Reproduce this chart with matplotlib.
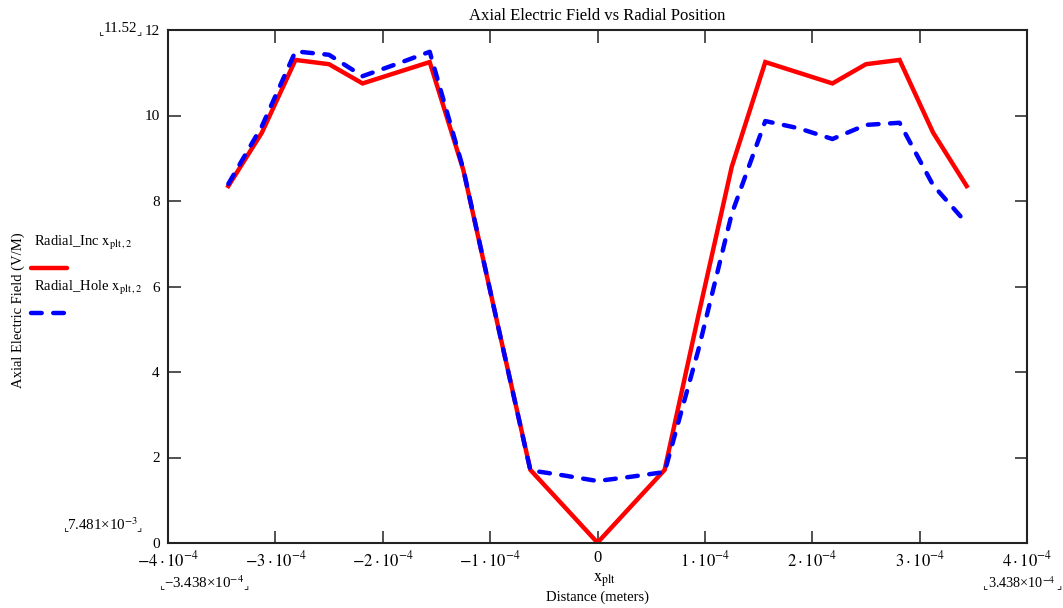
import numpy as np
import matplotlib
matplotlib.use('Agg')
import matplotlib.pyplot as plt
from matplotlib.lines import Line2D

plt.rcParams['font.family'] = ['Liberation Serif', 'DejaVu Sans']
plt.rcParams['mathtext.fontset'] = 'stix'

# radial positions (meters), 23 samples
x_plt = np.linspace(-3.438e-4, 3.438e-4, 23)
radial_inc = [8.35, 9.6, 11.3, 11.2, 10.75, 11.0, 11.25, 8.73, 5.2, 1.71, 0.86, 0.007481,
              0.86, 1.71, 5.3, 8.8, 11.25, 11.0, 10.75, 11.2, 11.3, 9.6, 8.35]
radial_hole = [8.4, 9.75, 11.5, 11.42, 10.92, 11.2, 11.49, 8.75, 5.2, 1.7, 1.58, 1.45,
               1.55, 1.66, 4.5, 7.7, 9.87, 9.7, 9.45, 9.78, 9.83, 8.37, 7.48]

xticks = [-4e-4, -3e-4, -2e-4, -1e-4, 0, 1e-4, 2e-4, 3e-4, 4e-4]
xticklabels = [r'$-4\cdot10^{-4}$', r'$-3\cdot10^{-4}$', r'$-2\cdot10^{-4}$', r'$-1\cdot10^{-4}$', '0',
               r'$1\cdot10^{-4}$', r'$2\cdot10^{-4}$', r'$3\cdot10^{-4}$', r'$4\cdot10^{-4}$']
yticks = [0, 2, 4, 6, 8, 10, 12]

fig = plt.figure(figsize=(10.63, 6.08), dpi=100)
ax = fig.add_axes([168/1063, 1 - 543/608, (1027 - 168)/1063, (543 - 30)/608])

ax.plot(x_plt, radial_inc, color='#ff0000', lw=3.2, solid_joinstyle='miter')
ax.plot(x_plt, radial_hole, color='#0000ff', lw=3.2, linestyle=(0, (2.4, 2.6)),
        dash_capstyle='round')

ax.set_xlim(-4e-4, 4e-4)
ax.set_ylim(0, 12)
ax.set_xticks(xticks)
ax.set_xticklabels(xticklabels, fontsize=12)
ax.set_yticks(yticks)
ax.set_yticklabels([str(v) for v in yticks], fontsize=11)
ax.tick_params(direction='in', length=9, width=1.2, top=True, right=True, color='#333333')
ax.tick_params(axis='x', pad=5)
ax.tick_params(axis='y', pad=6)
for s in ax.spines.values():
    s.set_linewidth(1.5)
    s.set_color('#222222')

ax.set_title('Axial Electric Field vs Radial Position', fontsize=12, pad=7)

# axis labels
fig.text(605/1063, 1 - 580/608, r'$\mathrm{x}_{\mathrm{plt}}$', fontsize=12, ha='center', va='center')
fig.text(597/1063, 1 - 597/608, 'Distance (meters)', fontsize=10.5, ha='center', va='center')
fig.text(18/1063, 1 - 310/608, 'Axial Electric Field (V/M)', fontsize=10.5, rotation=90,
         ha='center', va='center')


# range markers with corner brackets
def marker(xl, xr, y, label, size=10.8):
    fig.text(xl/1063, 1 - (y + 2)/608, '\u231e', family='DejaVu Sans', fontsize=8, ha='center', va='center')
    fig.text(xr/1063, 1 - (y + 2)/608, '\u231f', family='DejaVu Sans', fontsize=8, ha='center', va='center')
    fig.text((xl + xr)/2/1063, 1 - (y - 1)/608, label, fontsize=size, ha='center', va='center')


marker(101, 139, 30, '11.52')
marker(66, 139, 526, '7.481\u00d710$^{-3}$')
marker(162, 246, 584, '\u22123.438\u00d710$^{-4}$')
marker(985, 1059, 584, '3.438\u00d710$^{-4}$', size=10.2)

# legend
fig.text(34/1063, 1 - 243/608, r'Radial_Inc $\mathrm{x}_{\mathrm{plt}\,,2}$', fontsize=10.5, va='center')
fig.add_artist(Line2D([31/1063, 67/1063], [1 - 268/608, 1 - 268/608], color='#ff0000', lw=3.2,
                      solid_capstyle='round'))
fig.text(34/1063, 1 - 288/608, r'Radial_Hole $\mathrm{x}_{\mathrm{plt}\,,2}$', fontsize=10.5, va='center')
fig.add_artist(Line2D([31/1063, 66/1063], [1 - 313/608, 1 - 313/608], color='#0000ff', lw=3.2,
                      linestyle=(0, (2.4, 2.6)), dash_capstyle='round'))

fig.savefig('out.png', dpi=100)
